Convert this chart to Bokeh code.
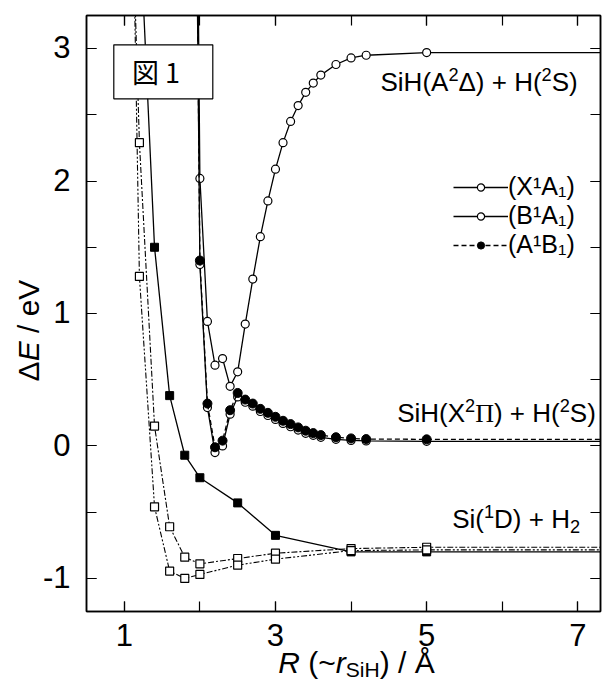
from bokeh.plotting import figure
from bokeh.models import (Range1d, LinearAxis, FixedTicker, Label, BoxAnnotation,
                          Legend, LegendItem, CustomJSTickFormatter)
from bokeh.layouts import row, column
from bokeh.embed import file_html
from bokeh.resources import INLINE
import math

# ---------------- data ----------------
R_sq = [1.0, 1.2, 1.4, 1.6, 1.8, 2.0, 2.5, 3.0, 4.0, 5.0, 10.0]
E_sq_open_a = [6.0, 2.29, 0.15, -0.61, -0.84, -0.89, -0.85, -0.81, -0.775, -0.765, -0.765]
E_sq_open_b = [7.8, 1.28, -0.46, -0.945, -1.00, -0.97, -0.90, -0.855, -0.79, -0.785, -0.785]
R_sq_fill = [1.2, 1.4, 1.6, 1.8, 2.0, 2.5, 3.0, 4.0, 5.0, 10.0]
E_sq_fill = [4.0, 1.50, 0.38, -0.07, -0.24, -0.43, -0.675, -0.80, -0.80, -0.80]

R_c = [1.9, 2.0, 2.1, 2.2, 2.3, 2.4, 2.5, 2.6, 2.7, 2.8, 2.9, 3.0, 3.1, 3.2,
       3.3, 3.4, 3.5, 3.6, 3.8, 4.0, 4.2, 5.0, 10.0]
E_X1A1 = [7.4, 1.37, 0.29, -0.05, 0.00, 0.24, 0.37, 0.33, 0.30, 0.26, 0.23, 0.20,
          0.17, 0.145, 0.12, 0.095, 0.08, 0.065, 0.05, 0.042, 0.038, 0.035, 0.035]
E_B1A1 = [8.5, 2.02, 0.94, 0.61, 0.66, 0.45, 0.56, 0.92, 1.26, 1.58, 1.85, 2.09,
          2.29, 2.45, 2.57, 2.67, 2.74, 2.80, 2.88, 2.93, 2.95, 2.97, 2.97]
E_A1B1 = [7.5, 1.40, 0.32, -0.01, 0.04, 0.27, 0.40, 0.35, 0.32, 0.28, 0.25, 0.22,
          0.19, 0.165, 0.14, 0.115, 0.097, 0.082, 0.066, 0.057, 0.052, 0.05, 0.05]

legend_labels = ["(X¹A₁)", "(B¹A₁)", "(A¹B₁)"]
x_ticks = [1, 3, 5, 7]
x_tick_text = ["1", "3", "5", "7"]
x_minor = [1, 2, 3, 4, 5, 6, 7]
y_ticks = [-1, 0, 1, 2, 3]
y_tick_text = ["-1", "0", "1", "2", "3"]
y_minor = [-1, -0.5, 0, 0.5, 1, 1.5, 2, 2.5, 3]

# ---------------- geometry (page px) ----------------
X0, X1, Y0, Y1 = 0.5, 7.3, -1.25, 3.25
FL, FR, FT, FB = 86, 600, 15, 611      # main frame edges on the page
YW = 84                                 # width of left strip (tick labels + title)
TOTAL_H = 682
MAIN_H = FB + 2
XF_H = TOTAL_H - MAIN_H
CORR = 0.4                              # baseline correction (em) for Label text

def px2x(px):
    return X0 + (px - FL) * (X1 - X0) / (FR - FL)

def py2y(py):
    return Y1 - (py - FT) * (Y1 - Y0) / (FB - FT)

xr = Range1d(X0, X1)
yr = Range1d(Y0, Y1)

# ---------------- main figure ----------------
p = figure(width=(FL - YW) + (FR - FL) + 4, height=MAIN_H, x_range=xr, y_range=yr,
           output_backend="svg", toolbar_location=None,
           min_border_left=FL - YW, min_border_right=4, min_border_top=FT,
           min_border_bottom=2)
p.title.visible = False
p.xgrid.visible = False
p.ygrid.visible = False
p.outline_line_color = "black"
p.outline_line_width = 1.5
p.background_fill_color = "white"
p.border_fill_color = "white"

def style_axis(ax, ticker):
    ax.ticker = ticker
    ax.axis_line_width = 1.5
    ax.axis_line_color = "black"
    ax.major_tick_in = 10
    ax.major_tick_out = 0
    ax.minor_tick_in = 10
    ax.minor_tick_out = 0
    ax.major_tick_line_width = 1.2
    ax.minor_tick_line_width = 1.2
    ax.major_tick_line_color = "black"
    ax.minor_tick_line_color = "black"
    ax.formatter = CustomJSTickFormatter(code="return ''")
    ax.major_label_text_font_size = "0px"
    ax.major_label_standoff = 0

style_axis(p.xaxis[0], FixedTicker(ticks=x_ticks, minor_ticks=x_minor))
style_axis(p.yaxis[0], FixedTicker(ticks=y_ticks, minor_ticks=y_minor))
top_ax = LinearAxis()
style_axis(top_ax, FixedTicker(ticks=x_ticks, minor_ticks=x_minor))
p.add_layout(top_ax, "above")
right_ax = LinearAxis()
style_axis(right_ax, FixedTicker(ticks=y_ticks, minor_ticks=y_minor))
p.add_layout(right_ax, "right")

# ---------------- curves ----------------
LW = 1.3
p.line(R_sq_fill, E_sq_fill, line_color="black", line_width=LW)
p.scatter(R_sq_fill, E_sq_fill, marker="square", size=8, fill_color="black",
          line_color="black", line_width=1)
p.line(R_sq, E_sq_open_a, line_color="black", line_width=1.1, line_dash="6 2 2 2")
p.line(R_sq, E_sq_open_b, line_color="black", line_width=1.1, line_dash="6 2 2 2 2 2")
p.scatter(R_sq, E_sq_open_a, marker="square", size=8, fill_color="white",
          line_color="black", line_width=1.2)
p.scatter(R_sq, E_sq_open_b, marker="square", size=8, fill_color="white",
          line_color="black", line_width=1.2)

lb = p.line(R_c, E_B1A1, line_color="black", line_width=LW)
sb = p.scatter(R_c, E_B1A1, marker="circle", size=8, fill_color="white",
               line_color="black", line_width=1.2)
lx = p.line(R_c, E_X1A1, line_color="black", line_width=LW)
sx = p.scatter(R_c, E_X1A1, marker="circle", size=8, fill_color="white",
               line_color="black", line_width=1.2)
la = p.line(R_c, E_A1B1, line_color="black", line_width=LW, line_dash="5 3")
sa = p.scatter(R_c, E_A1B1, marker="circle", size=9, fill_color="black",
               line_color="black", line_width=1)

legend = Legend(items=[LegendItem(label=legend_labels[0], renderers=[lx, sx]),
                       LegendItem(label=legend_labels[1], renderers=[lb, sb]),
                       LegendItem(label=legend_labels[2], renderers=[la, sa])],
                location=(453 - FL, FB - 259), orientation="vertical",
                glyph_width=55, glyph_height=18, label_height=18,
                label_standoff=0, spacing=0, padding=0, margin=0,
                border_line_color=None, background_fill_alpha=0,
                label_text_font="Liberation Sans", label_text_font_size="25px",
                label_text_color="black")
p.add_layout(legend)

# ---------------- rich text helper ----------------
W = {' ': 278, '(': 333, ')': 333, '+': 584, '~': 584, '/': 278, '-': 333,
     '1': 556, '2': 556, 'A': 667, 'B': 667, 'D': 722, 'E': 667, 'H': 722,
     'R': 722, 'S': 667, 'V': 667, 'X': 667, 'e': 556, 'i': 222, 'r': 333,
     'Å': 667, 'Δ': 668, 'Π': 722}

def tw(s, size):
    return sum(W.get(c, 600) for c in s) * size / 1000.0

def rich(fig, pieces, x, y, size, align="left", angle=0.0, sub_drop=0.18):
    """x, y: anchor of the baseline start (data units of fig)."""
    sizes = [size * 0.7 if k in ("sup", "sub") else size for _, k in pieces]
    total = sum(tw(t, s) for (t, _), s in zip(pieces, sizes))
    off = -total / 2 if align == "center" else 0.0
    for (t, k), s in zip(pieces, sizes):
        shift = 0.42 * size if k == "sup" else (-sub_drop * size if k == "sub" else 0.0)
        up = shift + CORR * s
        lead = len(t) - len(t.lstrip(" "))
        txt = t.strip(" ")
        o = off + tw(" " * lead, s)
        font = "Liberation Serif" if k == "serif" else "Liberation Sans"
        if angle == 0:
            xo, yo = o, up
        else:
            xo, yo = -up, o
        fig.add_layout(Label(x=x, y=y, x_offset=xo, y_offset=yo, text=txt,
                             angle=angle, text_font=font, text_font_size=f"{s:.1f}px",
                             text_font_style="italic" if k == "i" else "normal",
                             text_baseline="alphabetic", text_align="left",
                             text_color="black"))
        off += tw(t, s)

# annotations inside the frame
rich(p, [("SiH(A", "n"), ("2", "sup"), ("Δ) + H(", "n"), ("2", "sup"), ("S)", "n")],
     px2x(380), py2y(92), 26)
rich(p, [("SiH(X", "n"), ("2", "sup"), ("Π", "serif"), (") + H(", "n"), ("2", "sup"), ("S)", "n")],
     px2x(396.7), py2y(423), 26)
rich(p, [("Si(", "n"), ("1", "sup"), ("D) + H", "n"), ("2", "sub")],
     px2x(451.7), py2y(528.7), 26)

# figure tag box
p.add_layout(BoxAnnotation(left=px2x(113.3), right=px2x(212.3), top=py2y(44.3),
                           bottom=py2y(98.3), fill_color="white", fill_alpha=1.0,
                           line_color="black", line_alpha=1.0, line_width=1.2))
p.add_layout(Label(x=px2x(155.5), y=py2y(81.7), y_offset=CORR * 27, text="図 1",
                   text_align="center", text_baseline="alphabetic",
                   text_font="Noto Sans CJK JP", text_font_size="27px",
                   text_color="black"))

# ---------------- bottom strip: x tick labels and x title ----------------
xf = figure(width=(FL - YW) + (FR - FL) + 4, height=XF_H, x_range=xr,
            y_range=Range1d(TOTAL_H, MAIN_H), output_backend="svg",
            toolbar_location=None, x_axis_location=None, y_axis_location=None,
            min_border_left=FL - YW, min_border_right=4, min_border_top=0,
            min_border_bottom=0)
xf.title.visible = False
xf.outline_line_color = None
xf.xgrid.visible = False
xf.ygrid.visible = False
for tv, tt in zip(x_ticks, x_tick_text):
    xf.add_layout(Label(x=tv, y=647, y_offset=CORR * 31, text=tt, text_align="center",
                        text_baseline="alphabetic", text_font="Liberation Sans",
                        text_font_size="31px", text_color="black"))
rich(xf, [("R", "i"), (" (~", "n"), ("r", "i"), ("SiH", "sub"), (") / Å", "n")],
     px2x(356), 673.5, 30, align="center", sub_drop=0.13)

# ---------------- left strip: y tick labels and y title ----------------
yf = figure(width=YW, height=TOTAL_H, x_range=Range1d(0, YW), y_range=yr,
            output_backend="svg", toolbar_location=None,
            x_axis_location=None, y_axis_location=None,
            min_border_left=0, min_border_right=0, min_border_top=FT,
            min_border_bottom=TOTAL_H - FB)
yf.title.visible = False
yf.outline_line_color = None
yf.xgrid.visible = False
yf.ygrid.visible = False
for tv, tt in zip(y_ticks, y_tick_text):
    yf.add_layout(Label(x=70, y=tv, y_offset=(CORR - 0.358) * 31, text=tt,
                        text_align="right", text_baseline="alphabetic",
                        text_font="Liberation Sans", text_font_size="31px",
                        text_color="black"))
rich(yf, [("Δ", "n"), ("E", "i"), (" / eV", "n")], 40, py2y(330), 30, align="center",
     angle=math.pi / 2)

layout = row(yf, column(p, xf))
open("out.html", "w").write(file_html(layout, INLINE))
